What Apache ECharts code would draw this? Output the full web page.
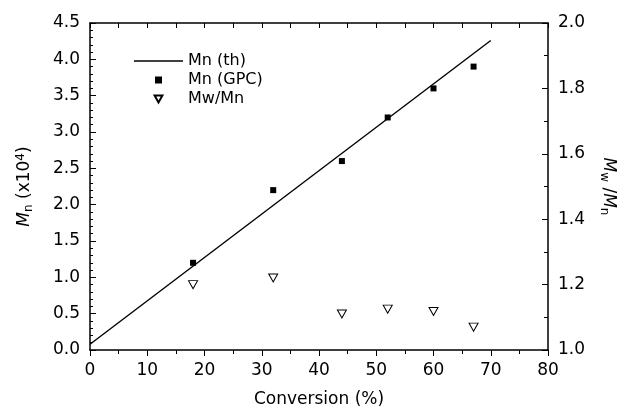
<!DOCTYPE html>
<html lang="en">
<head>
<meta charset="UTF-8">
<script src="https://cdn.jsdelivr.net/npm/echarts@6/dist/echarts.min.js"></script>
<title>Mn vs conversion</title>
<style>
  body { margin: 0; padding: 0; background: #fff; }
  #chart { width: 626px; height: 413px; }
</style>
</head>
<body>
<div id="chart"></div>
<script>
  // theory line (two end points)
  const thX = [0, 70];
  const thY = [0.08, 4.26];
  // measured points
  const conversion = [18, 32, 44, 52, 60, 67];
  const mnGpc = [1.2, 2.2, 2.6, 3.2, 3.6, 3.9];
  const pdi = [1.2, 1.22, 1.11, 1.125, 1.118, 1.07];

  const font = 'DejaVu Sans, sans-serif';
  const triDown = 'path://M0,0 L10,0 L5,9 Z';

  const chart = echarts.init(document.getElementById('chart'));

  const tickStyle = { color: '#000', width: 1 };
  const labelStyle = { color: '#000', fontSize: 17, fontFamily: font };
  const axisLineStyle = { color: '#000', width: 1.5 };

  const option = {
    animation: false,
    grid: { left: 90, right: 78, top: 23, bottom: 62 },
    legend: {
      orient: 'vertical',
      left: 129,
      top: 48,
      itemWidth: 49,
      itemHeight: 7,
      itemGap: 3,
      textStyle: { color: '#000', fontSize: 16, fontFamily: font },
      data: [
        { name: 'Mn (th)', icon: 'path://M0,0 L49,0 L49,1.6 L0,1.6 Z', itemStyle: { color: '#000' } },
        { name: 'Mn (GPC)', icon: 'path://M0,0 L1,0 L1,1 L0,1 Z' },
        { name: 'Mw/Mn' }
      ]
    },
    xAxis: [
      {
        type: 'value', min: 0, max: 80, interval: 10,
        name: 'Conversion (%)', nameLocation: 'middle', nameGap: 41,
        nameTextStyle: { color: '#000', fontSize: 17, fontFamily: font },
        axisLine: { lineStyle: axisLineStyle },
        axisTick: { inside: false, length: 6, lineStyle: tickStyle },
        minorTick: { show: true, splitNumber: 2, length: 4, lineStyle: tickStyle },
        axisLabel: Object.assign({ margin: 12 }, labelStyle),
        splitLine: { show: false }
      },
      {
        type: 'value', position: 'top', min: 0, max: 80, interval: 5,
        axisLine: { onZero: false, lineStyle: axisLineStyle },
        axisTick: { inside: true, length: 5, lineStyle: tickStyle },
        axisLabel: { show: false },
        splitLine: { show: false }
      }
    ],
    yAxis: [
      {
        type: 'value', min: 0, max: 4.5, interval: 0.5,
        name: '{i|M}{sub|n} (x10{sup|4})', nameLocation: 'middle', nameGap: 55,
        nameTextStyle: {
          color: '#000', fontSize: 17, fontFamily: font,
          rich: {
            i: { fontSize: 17, fontStyle: 'italic', fontFamily: font, color: '#000' },
            sub: { fontSize: 12, fontFamily: font, color: '#000', padding: [9, 0, 0, 0] },
            sup: { fontSize: 12, fontFamily: font, color: '#000', padding: [0, 0, 8, 0] }
          }
        },
        axisLine: { show: true, onZero: false, lineStyle: axisLineStyle },
        axisTick: { show: true, inside: true, length: 6, lineStyle: tickStyle },
        minorTick: { show: true, splitNumber: 5, length: 3, lineStyle: tickStyle },
        axisLabel: Object.assign({ margin: 10, formatter: v => v.toFixed(1) }, labelStyle),
        splitLine: { show: false }
      },
      {
        type: 'value', position: 'right', min: 1, max: 2, interval: 0.2,
        name: '{i|M}{sub|w} /{i|M}{sub|n}', nameLocation: 'middle', nameGap: 50, nameRotate: -90,
        nameTextStyle: {
          color: '#000', fontSize: 17, fontFamily: font,
          rich: {
            i: { fontSize: 17, fontStyle: 'italic', fontFamily: font, color: '#000' },
            sub: { fontSize: 12, fontFamily: font, color: '#000', padding: [9, 0, 0, 0] }
          }
        },
        axisLine: { show: true, onZero: false, lineStyle: axisLineStyle },
        axisTick: { show: true, inside: true, length: 6, lineStyle: tickStyle },
        minorTick: { show: true, splitNumber: 2, length: 4, lineStyle: tickStyle },
        axisLabel: Object.assign({ margin: 10, formatter: v => v.toFixed(1) }, labelStyle),
        splitLine: { show: false }
      }
    ],
    series: [
      {
        name: 'Mn (th)', type: 'line', showSymbol: false,
        lineStyle: { color: '#000', width: 1.4 },
        itemStyle: { color: '#000' },
        data: thX.map((x, i) => [x, thY[i]])
      },
      {
        name: 'Mn (GPC)', type: 'scatter', symbol: 'rect', symbolSize: 6,
        itemStyle: { color: '#000', opacity: 1 },
        data: conversion.map((x, i) => [x, mnGpc[i]])
      },
      {
        name: 'Mw/Mn', type: 'scatter', yAxisIndex: 1, symbol: triDown, symbolSize: [9, 8],
        itemStyle: { color: '#fff', borderColor: '#000', borderWidth: 1, opacity: 1 },
        data: conversion.map((x, i) => [x, pdi[i]])
      }
    ]
  };

  chart.setOption(option);
</script>
</body>
</html>
